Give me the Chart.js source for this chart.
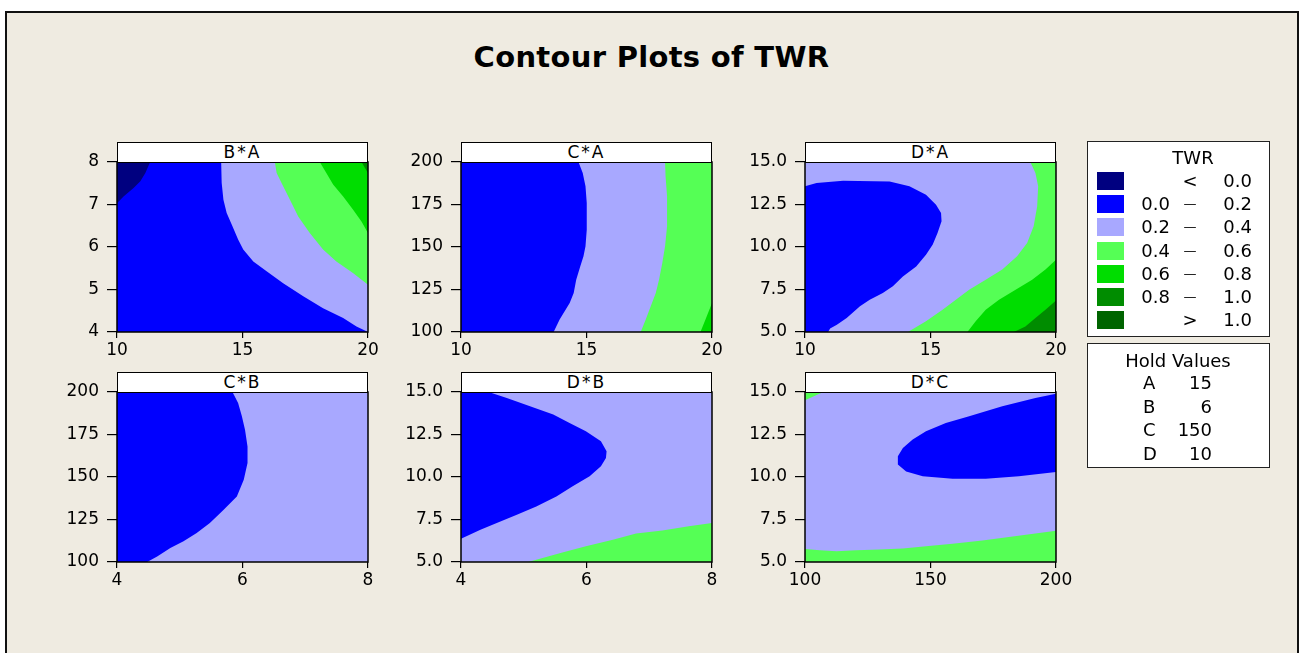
<!DOCTYPE html>
<html>
<head>
<meta charset="utf-8">
<script src="https://cdn.jsdelivr.net/npm/chart.js@4.4.1/dist/chart.umd.min.js"></script>
<style>
  html, body { margin: 0; padding: 0; background: #fff; }
  #page { position: relative; width: 1301px; height: 653px; overflow: hidden; background: #fff;
          font-family: 'DejaVu Sans', Verdana, sans-serif; color: #000; }
  #frame { position: absolute; left: 5px; top: 11px; width: 1294px; height: 700px;
           background: #efebe1; border: 2px solid #111; box-sizing: border-box; }
  #title { position: absolute; left: 0; width: 1303px; top: 43px; text-align: center;
           font-weight: bold; font-size: 29px; line-height: 29px; letter-spacing: 0.3px; }
  .panel { position: absolute; }
  .strip { position: absolute; background: #fff; border: 1.5px solid #000; box-sizing: border-box;
           height: 21px; text-align: center; font-size: 17px; line-height: 18px; letter-spacing: 2px; }
  .box { position: absolute; background: #fff; border: 1.5px solid #222; box-sizing: border-box; }
  .txt { position: absolute; height: 20px; line-height: 20px; font-size: 18px; white-space: nowrap; }
  .dash { font-size: 13px; }
  .sw { position: absolute; width: 27px; height: 18px; }
</style>
</head>
<body>
<div id="page">
  <div id="frame"></div>
  <div id="title">Contour Plots of TWR</div>
</div>
<script>
// Colours of the contour bands
const bandColors = ['#000080', '#0000ff', '#a8a8ff', '#55ff55', '#00dd00', '#008c00', '#006400'];
const bandLow = ['', '0.0', '0.2', '0.4', '0.6', '0.8', ''];
const bandSign = ['<', '\u2014', '\u2014', '\u2014', '\u2014', '\u2014', '>'];
const bandHigh = ['0.0', '0.2', '0.4', '0.6', '0.8', '1.0', '1.0'];

const holdFactors = ['A', 'B', 'C', 'D'];
const holdValues = [15, 6, 150, 10];

// Axis ticks
const aTicks = [10, 15, 20];
const aTickLabels = ['10', '15', '20'];
const bTicksY = [4, 5, 6, 7, 8];
const bTickLabelsY = ['4', '5', '6', '7', '8'];
const bTicksX = [4, 6, 8];
const bTickLabelsX = ['4', '6', '8'];
const cTicksY = [100, 125, 150, 175, 200];
const cTickLabelsY = ['100', '125', '150', '175', '200'];
const cTicksX = [100, 150, 200];
const cTickLabelsX = ['100', '150', '200'];
const dTicks = [5, 7.5, 10, 12.5, 15];
const dTickLabels = ['5.0', '7.5', '10.0', '12.5', '15.0'];

// B*A  (x = A, y = B)
const baFull = [[10, 4], [20, 4], [20, 8], [10, 8]];
const baBelow0 = [[10, 8], [10, 7.03], [10.26, 7.19], [10.66, 7.39], [10.93, 7.55], [11.13, 7.74], [11.32, 8]];
const baAbove02 = [[14.15, 8], [14.17, 7.51], [14.24, 7.11], [14.37, 6.80], [14.57, 6.53], [14.83, 6.17], [15.03, 5.94],
  [15.43, 5.66], [15.96, 5.43], [16.62, 5.15], [17.42, 4.84], [18.21, 4.56], [19.01, 4.33], [19.54, 4.13], [20, 4], [20, 8]];
const baAbove04 = [[16.29, 8], [16.36, 7.74], [16.62, 7.43], [16.89, 7.11], [17.22, 6.72], [17.68, 6.33], [18.21, 5.94],
  [18.74, 5.66], [19.40, 5.39], [20, 5.11], [20, 8]];
const baAbove06 = [[18.08, 8], [18.34, 7.74], [18.61, 7.47], [19.01, 7.19], [19.40, 6.88], [19.74, 6.60], [20, 6.33], [20, 8]];
const baAbove08 = [[19.74, 8], [20, 7.74], [20, 8]];

// C*A  (x = A, y = C)
const caFull = [[10, 100], [20, 100], [20, 200], [10, 200]];
const caAbove02 = [[14.68, 200], [14.85, 193.5], [14.96, 185.7], [15.01, 175.9], [15.01, 160.2], [14.96, 150.4], [14.88, 144.5],
  [14.75, 138.6], [14.59, 130.8], [14.49, 122.9], [14.33, 117.1], [14.13, 112.2], [13.93, 107.3], [13.69, 100], [20, 100], [20, 200]];
const caAbove04 = [[18.13, 200], [18.15, 191.6], [18.21, 179.8], [18.21, 162.2], [18.13, 150.4], [18.02, 140.6], [17.89, 130.8],
  [17.76, 122.9], [17.56, 115.1], [17.36, 107.3], [17.16, 100], [20, 100], [20, 200]];
const caAbove06 = [[20, 117.1], [19.74, 107.3], [19.54, 100], [20, 100]];

// D*A  (x = A, y = D)
const daFull = [[10, 5], [20, 5], [20, 15], [10, 15]];
const daBelow02 = [[10, 13.57], [10.46, 13.76], [11.52, 13.90], [13.37, 13.86], [14.16, 13.57], [14.82, 13.08], [15.22, 12.49],
  [15.42, 12.0], [15.44, 11.51], [15.28, 10.82], [15.09, 10.14], [14.82, 9.55], [14.43, 8.86], [13.90, 8.27], [13.50, 7.69],
  [13.10, 7.29], [12.58, 6.90], [12.19, 6.51], [11.66, 5.82], [11.27, 5.43], [11.00, 5.20], [10.92, 5], [10, 5]];
const daAbove04 = [[18.98, 15], [19.18, 14.35], [19.29, 13.57], [19.25, 12.39], [19.11, 11.22], [18.85, 10.24], [18.45, 9.45],
  [17.86, 8.67], [17.20, 8.08], [16.54, 7.49], [15.48, 6.31], [14.82, 5.63], [14.10, 5], [20, 5], [20, 15]];
const daAbove06 = [[20, 9.25], [19.58, 8.67], [19.05, 8.08], [18.39, 7.49], [17.73, 6.90], [17.20, 6.31], [16.80, 5.63], [16.47, 5], [20, 5]];
const daAbove08 = [[20, 6.86], [19.58, 6.31], [19.18, 5.82], [18.78, 5.33], [18.32, 5], [20, 5]];

// C*B  (x = B, y = C)
const cbFull = [[4, 100], [8, 100], [8, 200], [4, 200]];
const cbBelow02 = [[4, 200], [5.84, 200], [5.93, 193.5], [5.99, 185.7], [6.04, 177.8], [6.08, 168.0], [6.08, 158.2], [6.02, 148.4],
  [5.91, 138.6], [5.70, 130.8], [5.48, 122.9], [5.27, 117.1], [5.06, 112.2], [4.85, 108.2], [4.64, 103.3], [4.48, 100], [4, 100]];

// D*B  (x = B, y = D)
const dbFull = [[4, 5], [8, 5], [8, 15], [4, 15]];
const dbBelow02 = [[4, 15], [4.44, 15], [4.73, 14.65], [5.10, 14.16], [5.47, 13.67], [5.73, 13.18], [5.99, 12.69], [6.23, 12.10],
  [6.32, 11.51], [6.31, 11.12], [6.23, 10.63], [6.05, 10.04], [5.78, 9.45], [5.52, 8.86], [5.20, 8.27], [4.89, 7.78], [4.57, 7.29],
  [4.31, 6.90], [4, 6.37]];
const dbAbove04 = [[5.07, 5], [5.63, 5.57], [5.99, 5.92], [6.42, 6.31], [6.79, 6.67], [7.21, 6.86], [7.63, 7.10], [8, 7.29], [8, 5]];

// D*C  (x = C, y = D)
const dcFull = [[100, 5], [200, 5], [200, 15], [100, 15]];
const dcAbove04Top = [[100, 15], [107.3, 15], [100, 14.51]];
const dcAbove04Bottom = [[100, 5.76], [105.9, 5.69], [112.5, 5.63], [120.5, 5.69], [129.7, 5.73], [139.0, 5.80], [148.2, 5.92],
  [158.8, 6.08], [170.7, 6.27], [181.2, 6.47], [191.8, 6.67], [200, 6.84], [200, 5], [100, 5]];
const dcBelow02 = [[200, 14.90], [191.8, 14.65], [178.6, 14.16], [165.4, 13.57], [156.1, 13.18], [148.2, 12.69], [142.9, 12.20],
  [139.0, 11.71], [137.0, 11.22], [137.0, 10.73], [140.3, 10.33], [146.9, 10.04], [158.8, 9.90], [172.0, 9.90], [185.2, 10.04], [200, 10.29]];

const [cNavy, cBlue, cLight, cLGreen, cGreen, cDGreen] = bandColors;

// layout of the six panels
const plotW = 251, plotH = 170;
const padL = 72, padT = 22, padR = 26, padB = 34;
const panels = [
  { title: 'B*A', left: 117, top: 162, xr: [10, 20], yr: [4, 8], xt: aTicks, xl: aTickLabels, yt: bTicksY, yl: bTickLabelsY,
    layers: [[cBlue, baFull], [cNavy, baBelow0], [cLight, baAbove02], [cLGreen, baAbove04], [cGreen, baAbove06], [cDGreen, baAbove08]] },
  { title: 'C*A', left: 461, top: 162, xr: [10, 20], yr: [100, 200], xt: aTicks, xl: aTickLabels, yt: cTicksY, yl: cTickLabelsY,
    layers: [[cBlue, caFull], [cLight, caAbove02], [cLGreen, caAbove04], [cGreen, caAbove06]] },
  { title: 'D*A', left: 805, top: 162, xr: [10, 20], yr: [5, 15], xt: aTicks, xl: aTickLabels, yt: dTicks, yl: dTickLabels,
    layers: [[cLight, daFull], [cBlue, daBelow02], [cLGreen, daAbove04], [cGreen, daAbove06], [cDGreen, daAbove08]] },
  { title: 'C*B', left: 117, top: 392, xr: [4, 8], yr: [100, 200], xt: bTicksX, xl: bTickLabelsX, yt: cTicksY, yl: cTickLabelsY,
    layers: [[cLight, cbFull], [cBlue, cbBelow02]] },
  { title: 'D*B', left: 461, top: 392, xr: [4, 8], yr: [5, 15], xt: bTicksX, xl: bTickLabelsX, yt: dTicks, yl: dTickLabels,
    layers: [[cLight, dbFull], [cBlue, dbBelow02], [cLGreen, dbAbove04]] },
  { title: 'D*C', left: 805, top: 392, xr: [100, 200], yr: [5, 15], xt: cTicksX, xl: cTickLabelsX, yt: dTicks, yl: dTickLabels,
    layers: [[cLight, dcFull], [cLGreen, dcAbove04Top], [cLGreen, dcAbove04Bottom], [cBlue, dcBelow02]] }
];

const page = document.getElementById('page');
const tickFont = { family: "'DejaVu Sans', Verdana, sans-serif", size: 17 };

// black frame round each plot area
const frameBox = {
  id: 'frameBox',
  afterDraw(chart) {
    const { ctx, chartArea: a } = chart;
    ctx.save();
    ctx.strokeStyle = '#000';
    ctx.lineWidth = 1.5;
    ctx.strokeRect(a.left, a.top, a.right - a.left, a.bottom - a.top);
    ctx.restore();
  }
};

panels.forEach(p => {
  const canvas = document.createElement('canvas');
  canvas.className = 'panel';
  canvas.width = plotW + padL + padR;
  canvas.height = plotH + padT + padB;
  canvas.style.left = (p.left - padL) + 'px';
  canvas.style.top = (p.top - padT) + 'px';
  page.appendChild(canvas);

  const strip = document.createElement('div');
  strip.className = 'strip';
  strip.style.left = p.left + 'px';
  strip.style.top = (p.top - 20) + 'px';
  strip.style.width = plotW + 'px';
  strip.textContent = p.title;
  page.appendChild(strip);

  new Chart(canvas, {
    type: 'scatter',
    data: {
      datasets: p.layers.map(([color, pts], i) => ({
        data: pts.map(([x, y]) => ({ x, y })),
        showLine: true,
        fill: 'shape',
        backgroundColor: color,
        borderColor: color,
        borderWidth: 0,
        pointRadius: 0,
        tension: 0,
        order: p.layers.length - i
      }))
    },
    options: {
      responsive: false,
      animation: false,
      events: [],
      layout: { padding: { left: 0, top: padT, right: padR, bottom: 0 } },
      plugins: { legend: { display: false }, tooltip: { enabled: false } },
      scales: {
        x: {
          type: 'linear', min: p.xr[0], max: p.xr[1],
          afterBuildTicks: s => { s.ticks = p.xt.map(v => ({ value: v })); },
          afterFit: s => { s.height = padB; },
          ticks: { callback: (v, i) => p.xl[i], font: tickFont, color: '#000', padding: 2, maxRotation: 0, autoSkip: false },
          grid: { drawOnChartArea: false, color: '#000', lineWidth: 1.2, tickLength: 6 },
          border: { display: false }
        },
        y: {
          type: 'linear', min: p.yr[0], max: p.yr[1],
          afterBuildTicks: s => { s.ticks = p.yt.map(v => ({ value: v })); },
          afterFit: s => { s.width = padL; },
          ticks: { callback: (v, i) => p.yl[i], font: tickFont, color: '#000', padding: 8, autoSkip: false },
          grid: { drawOnChartArea: false, color: '#000', lineWidth: 1.2, tickLength: 10 },
          border: { display: false }
        }
      }
    },
    plugins: [frameBox]
  });
});

// legend boxes
function addBox(left, top, w, h) {
  const d = document.createElement('div');
  d.className = 'box';
  Object.assign(d.style, { left: left + 'px', top: top + 'px', width: w + 'px', height: h + 'px' });
  page.appendChild(d);
}
function addText(str, x, cy, align, cls) {
  const d = document.createElement('div');
  d.className = 'txt' + (cls ? ' ' + cls : '');
  d.textContent = str;
  d.style.top = (cy - 10) + 'px';
  if (align === 'right') { d.style.right = (1301 - x) + 'px'; }
  else if (align === 'center') { d.style.left = (x - 100) + 'px'; d.style.width = '200px'; d.style.textAlign = 'center'; }
  else { d.style.left = x + 'px'; }
  page.appendChild(d);
}

addBox(1087, 141, 183, 196);
addText('TWR', 1193, 158, 'center');
bandColors.forEach((c, i) => {
  const cy = 181 + i * 23.2;
  const s = document.createElement('div');
  s.className = 'sw';
  s.style.background = c;
  s.style.left = '1097px';
  s.style.top = (cy - 9) + 'px';
  page.appendChild(s);
  if (bandLow[i]) addText(bandLow[i], 1170, cy, 'right');
  addText(bandSign[i], 1190, cy, 'center', i > 0 && i < 6 ? 'dash' : '');
  addText(bandHigh[i], 1252, cy, 'right');
});

addBox(1087, 343, 183, 125);
addText('Hold Values', 1178, 361, 'center');
holdFactors.forEach((f, i) => {
  const cy = 383 + i * 23.7;
  addText(f, 1143, cy, 'left');
  addText(String(holdValues[i]), 1212, cy, 'right');
});
</script>
</body>
</html>
